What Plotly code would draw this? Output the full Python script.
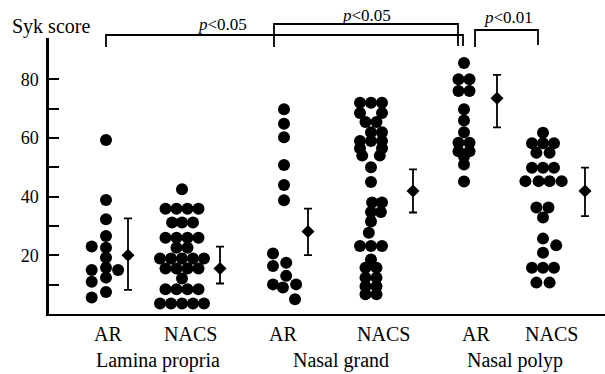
import plotly.graph_objects as go

# ---------------- data ----------------
groups = ["Lamina propria", "Nasal grand", "Nasal polyp"]
subgroups = ["AR", "NACS", "AR", "NACS", "AR", "NACS"]

# Syk score of each specimen
lp_ar = [59.3, 38.9, 32.3, 26.6, 23.0, 22.6, 19.2, 15.0, 15.8, 15.0, 11.0, 12.4, 5.6, 7.5]
lp_nacs = [42.5,
           35.9, 35.9, 35.9, 35.9,
           31.2, 31.2, 31.2,
           26.0, 26.0, 26.0, 26.0,
           22.6, 22.6,
           18.9, 18.9, 18.9, 18.9, 18.9,
           15.5, 15.5, 15.5, 15.5,
           12.1,
           8.4, 8.4, 8.4, 8.4,
           3.6, 3.6, 3.6, 3.6, 3.6]
ng_ar = [69.8, 64.9, 60.3, 50.8, 44.0, 38.8, 20.6, 17.5, 16.4, 13.0, 10.1, 9.0, 10.1, 5.0]
ng_nacs = [72.0, 72.0, 72.0,
           68.5, 68.5,
           65.5, 65.5,
           62.0, 62.0,
           59.0, 59.0, 59.0,
           56.5, 56.5,
           54.0, 54.0,
           50.0, 45.0,
           38.0, 38.0,
           34.8, 34.8,
           31.5, 27.7,
           23.2, 23.2, 23.2,
           18.6,
           15.8, 15.8,
           12.4, 12.4,
           9.5, 9.5,
           6.7, 6.7]
np_ar = [85.6, 80.0, 80.0, 76.0, 76.0, 69.8, 66.0, 62.0, 58.4, 58.4, 55.5, 55.5, 53.8, 51.0, 45.2]
np_nacs = [61.8,
           58.2, 58.2, 58.2,
           55.0, 55.0,
           49.9, 49.9, 49.9,
           45.3, 45.3, 45.3, 45.3,
           36.3, 36.3,
           32.9, 25.7, 23.4, 20.9,
           15.8, 15.8, 15.8,
           10.7, 10.7]

# horizontal slot of each dot within its column (dot-plot stacking)
lp_ar_slot = [0, 0, 0, 0, -1.3, 0, 0, -1.3, 0, 1.1, -1.3, 0, -1.3, 0]
lp_nacs_slot = [0,
                -1.5, -0.5, 0.5, 1.5,
                -0.9, 0, 1,
                -1.5, -0.5, 0.5, 1.5,
                -0.5, 0.5,
                -2, -1, 0, 1, 2,
                -1.5, -0.5, 0.5, 1.5,
                0,
                -1.5, -0.5, 0.5, 1.5,
                -2, -1, 0, 1, 2]
ng_ar_slot = [0, 0, 0, 0, 0, 0, -1, 0.2, -1, 0.2, -1, -0.1, 1.1, 1.0]
ng_nacs_slot = [-1, 0, 1,
                -1, 1,
                -0.5, 0.5,
                0, 1,
                -1, 0, 1,
                -1, 1,
                -0.8, 0.8,
                0, 0,
                0.1, 1.0,
                0, 0.9,
                0, -0.2,
                -1, 0, 1,
                0,
                -0.5, 0.5,
                -0.5, 0.5,
                -0.5, 0.5,
                -0.5, 0.5]
np_ar_slot = [0, -0.5, 0.5, -0.5, 0.5, 0, 0, 0, -0.5, 0.5, -0.5, 0.5, 0, 0, 0]
np_nacs_slot = [0,
                -1, 0, 1,
                -0.6, 0.6,
                -1, 0, 1,
                -1.6, -0.4, 0.6, 1.7,
                -0.6, 0.5,
                0, 0, 1.2, 0,
                -1, 0, 1,
                -0.6, 0.6]

# mean and range bars
means = [20.0, 15.5, 28.1, 41.9, 73.6, 41.9]
upper = [32.6, 23.0, 35.9, 49.3, 81.5, 49.9]
lower = [8.2, 10.4, 20.1, 34.6, 63.6, 33.4]

y_ticks = [20, 40, 60, 80]
y_minor = [10, 30, 50, 70]

# ---------------- layout constants ----------------
W, H = 605, 374
L, R, T, B = 49, 0, 38, 60
col_x = [106, 182, 284, 371, 464, 543]      # dot column centres (x-axis units)
mean_x = [128, 220, 308, 413, 497, 585]     # mean/bar positions
label_x = [108, 190, 283, 383, 476, 551]
group_x = [158, 341, 515]
slot_w = 11

def px(xp):
    return (xp - L) / (W - L - R)

def py(yp):
    return (H - B - yp) / (H - B - T)

series_vals = [lp_ar, lp_nacs, ng_ar, ng_nacs, np_ar, np_nacs]
series_slot = [lp_ar_slot, lp_nacs_slot, ng_ar_slot, ng_nacs_slot, np_ar_slot, np_nacs_slot]

fig = go.Figure()
for i, (vals, slots) in enumerate(zip(series_vals, series_slot)):
    fig.add_trace(go.Scatter(
        x=[col_x[i] + s * slot_w for s in slots], y=vals, mode="markers",
        marker=dict(size=12, color="#000000", line=dict(width=0)),
        showlegend=False, hoverinfo="y"))

fig.add_trace(go.Scatter(
    x=mean_x, y=means, mode="markers",
    marker=dict(symbol="diamond", size=10, color="#000000"),
    error_y=dict(type="data", symmetric=False,
                 array=[u - m for u, m in zip(upper, means)],
                 arrayminus=[m - l for m, l in zip(means, lower)],
                 color="#000000", thickness=1.8, width=4),
    showlegend=False))

serif = "Liberation Serif"
fig.update_layout(
    width=W, height=H, margin=dict(l=L, r=R, t=T, b=B),
    paper_bgcolor="white", plot_bgcolor="white",
    font=dict(family=serif, color="black"),
    xaxis=dict(range=[L, W - R], showgrid=False, zeroline=False,
               showline=True, linecolor="black", linewidth=2,
               showticklabels=False, ticks=""),
    yaxis=dict(range=[0, 94.1], showgrid=False, zeroline=False,
               showline=True, linecolor="black", linewidth=2.5,
               tickvals=y_ticks, ticks="inside", ticklen=10, tickwidth=2,
               tickcolor="black", tickfont=dict(family=serif, size=18),
               ticklabelstandoff=4,
               minor=dict(tickvals=y_minor, ticks="inside", ticklen=10,
                          tickwidth=2, tickcolor="black")),
)

ann = []
for lx, t in zip(label_x, subgroups):
    ann.append(dict(x=px(lx), y=py(334), xref="paper", yref="paper", text=t,
                    xanchor="center", yanchor="middle",
                    showarrow=False, font=dict(family=serif, size=20)))
for gx, g in zip(group_x, groups):
    ann.append(dict(x=px(gx), y=py(360), xref="paper", yref="paper", text=g,
                    xanchor="center", yanchor="middle",
                    showarrow=False, font=dict(family=serif, size=20)))
ann.append(dict(x=px(10), y=py(26), xref="paper", yref="paper", text="Syk score",
                xanchor="left", yanchor="middle",
                showarrow=False, font=dict(family=serif, size=20)))
for cx, cy, t in [(222, 24, "<i>p</i>&lt;0.05"), (366, 15, "<i>p</i>&lt;0.05"),
                  (508, 17, "<i>p</i>&lt;0.01")]:
    ann.append(dict(x=px(cx), y=py(cy), xref="paper", yref="paper", text=t,
                    xanchor="center", yanchor="middle",
                    showarrow=False, font=dict(family=serif, size=17)))
fig.update_layout(annotations=ann)

shapes = []
def bracket(x0, x1, ytop, yb0, yb1):
    pts = [(x0, yb0), (x0, ytop), (x1, ytop), (x1, yb1)]
    path = "M " + " L ".join(f"{px(a)},{py(b)}" for a, b in pts)
    shapes.append(dict(type="path", path=path, xref="paper", yref="paper",
                       line=dict(color="black", width=1.8)))

bracket(106, 463, 35, 47, 46)
bracket(274, 458, 24, 47, 46)
bracket(475, 538, 30, 47, 45)
fig.update_layout(shapes=shapes)

fig.write_html("out.html", config={"displayModeBar": False},
               post_script="document.body.style.margin='0';")
